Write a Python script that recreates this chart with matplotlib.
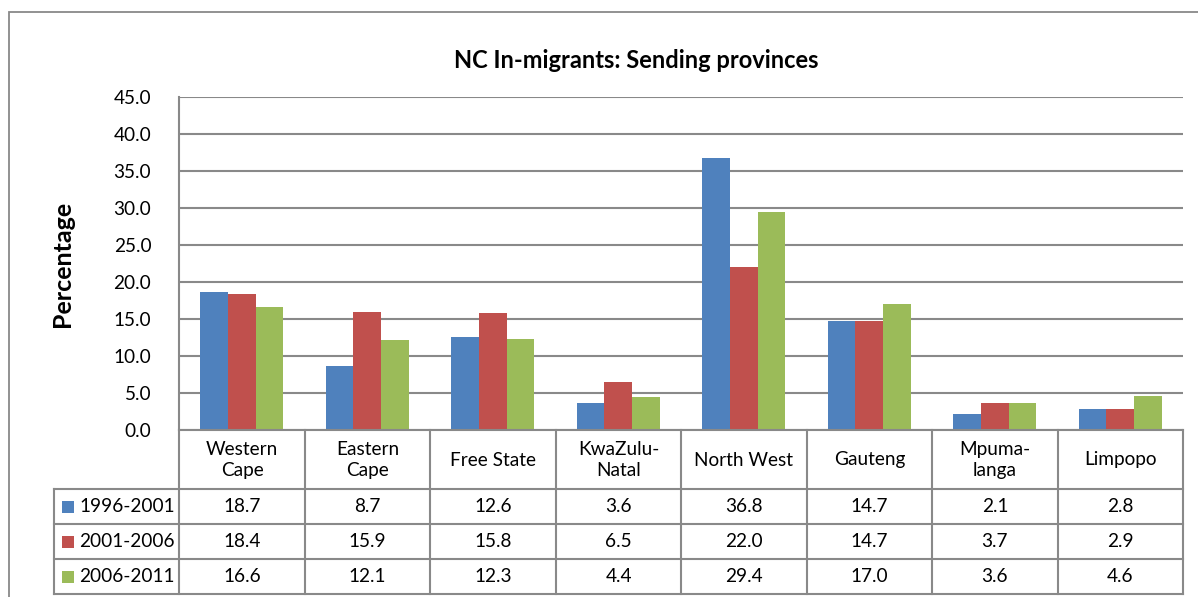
import matplotlib.pyplot as plt
from matplotlib.patches import Rectangle

plt.rcParams['font.family'] = ['Lato', 'DejaVu Sans']

# provinces sending migrants to the Northern Cape
provinces = ["Western\nCape", "Eastern\nCape", "Free State", "KwaZulu-\nNatal",
             "North West", "Gauteng", "Mpuma-\nlanga", "Limpopo"]
periods = ["1996-2001", "2001-2006", "2006-2011"]
p1996 = [18.7, 8.7, 12.6, 3.6, 36.8, 14.7, 2.1, 2.8]
p2001 = [18.4, 15.9, 15.8, 6.5, 22.0, 14.7, 3.7, 2.9]
p2006 = [16.6, 12.1, 12.3, 4.4, 29.4, 17.0, 3.6, 4.6]
series = [p1996, p2001, p2006]
colors = ["#4F81BD", "#C0504D", "#9BBB59"]
yticks = [0, 5, 10, 15, 20, 25, 30, 35, 40, 45]

W, H = 1198, 597
fig = plt.figure(figsize=(W / 100, H / 100), dpi=100)
grid_c = "#898989"
fs = 13.7

def box(x0, y0, x1, y1):
    # pixel box (top-left origin) -> figure fraction rect
    return [x0 / W, 1 - y1 / H, (x1 - x0) / W, (y1 - y0) / H]

# outer chart frame
fig.patches.append(Rectangle((9 / W, -0.1), 1.2, 1 - 12 / H + 0.1,
                             transform=fig.transFigure, fill=False,
                             edgecolor=grid_c, linewidth=1.3))

# ---- bar area
ax = fig.add_axes(box(179, 97, 1183, 430))
n = len(provinces)
bw = 0.22
for k, vals in enumerate(series):
    xs = [i + (k - 1) * bw for i in range(n)]
    ax.bar(xs, vals, width=bw, color=colors[k], zorder=3)
ax.set_xlim(-0.5, n - 0.5)
ax.set_ylim(0, 45)
ax.set_yticks(yticks)
ax.set_yticklabels([f"{t:.1f}" for t in yticks], fontsize=fs)
ax.yaxis.grid(True, color=grid_c, linewidth=1.5, zorder=0)
ax.tick_params(axis='y', length=0, pad=20)
ax.set_xticks([])
for s in ["top", "right", "bottom"]:
    ax.spines[s].set_visible(False)
ax.spines["left"].set_color(grid_c)
ax.spines["left"].set_linewidth(1.5)
ax.set_ylabel("Percentage", fontsize=18, fontweight="bold")
ax.yaxis.set_label_coords((62 - 179) / 1004, 0.5)
ax.yaxis.label.set_va("center")
fig.text(636 / W, 1 - 60 / H, "NC In-migrants: Sending provinces",
         ha="center", va="center", fontsize=17, fontweight="bold")

# ---- data table below the bars
tax = fig.add_axes(box(54, 430, 1183, 594))
tax.set_xlim(-1.5, n - 0.5)
tax.set_ylim(164, 0)
tax.axis("off")
rows = [0, 59, 94, 129, 164]
lk = dict(color=grid_c, linewidth=1.5, solid_capstyle="projecting", clip_on=False)
# horizontal lines
tax.plot([-0.5, n - 0.5], [0, 0], **lk)
for r in rows[1:]:
    tax.plot([-1.5, n - 0.5], [r, r], **lk)
# vertical lines
tax.plot([-1.5, -1.5], [rows[1], rows[-1]], **lk)
for i in range(n + 1):
    tax.plot([i - 0.5, i - 0.5], [0, rows[-1]], **lk)

for i, name in enumerate(provinces):
    tax.text(i, rows[0] + 30, name, ha="center", va="center",
             fontsize=fs, linespacing=1.25)
for k, vals in enumerate(series):
    yc = (rows[k + 1] + rows[k + 2]) / 2
    for i, v in enumerate(vals):
        tax.text(i, yc, f"{v:.1f}", ha="center", va="center", fontsize=fs)
    tax.add_patch(Rectangle((-1.5 + 8 / 125.5, yc - 6), 12 / 125.5, 12,
                            facecolor=colors[k], edgecolor="none"))
    tax.text(-1.5 + 25 / 125.5, yc, periods[k], ha="left", va="center", fontsize=fs)

fig.savefig("out.png", dpi=100)
